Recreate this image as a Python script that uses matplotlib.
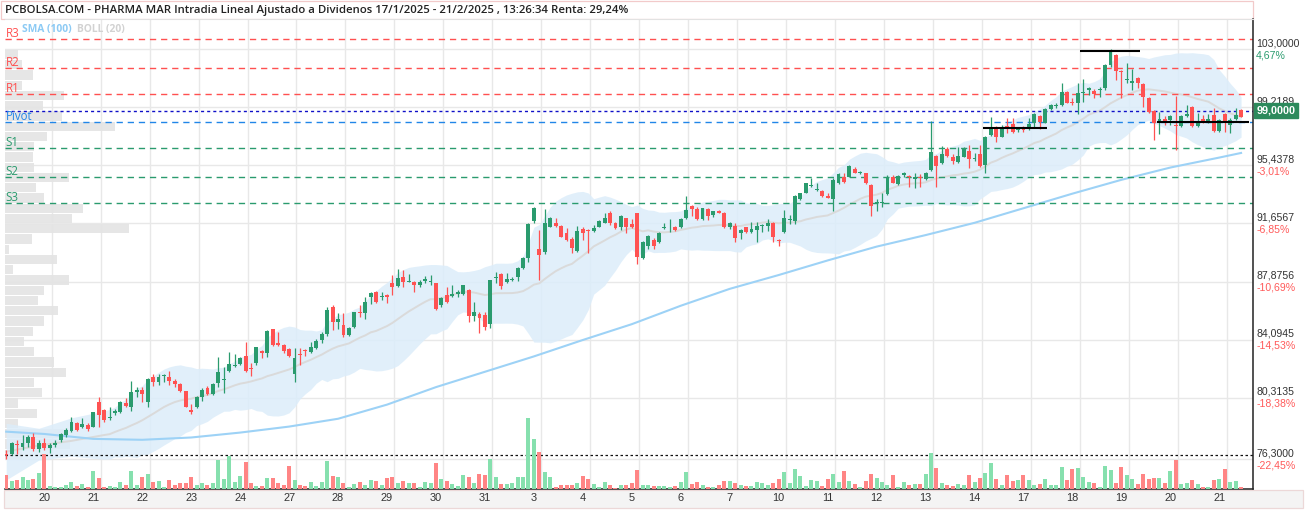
import numpy as np
import pandas as pd
import matplotlib
matplotlib.use("Agg")
import matplotlib.pyplot as plt
from matplotlib.patches import Rectangle
import matplotlib.transforms as mtransforms

# ---------------- data ----------------
title = ("PCBOLSA.COM - PHARMA MAR Intradia Lineal Ajustado a Dividenos "
         "17/1/2025 - 21/2/2025 , 13:26:34 Renta: 29,24%")

opens = [76.63, 76.65, 77.30, 77.08, 77.38, 77.73, 76.95, 77.38, 77.06, 77.23,
         77.56, 77.88, 78.15, 78.69, 78.43, 78.56, 78.43, 80.05, 79.51, 79.01,
         79.30, 79.36, 79.99, 79.73, 80.71, 80.81, 80.05, 81.66, 81.36, 81.75,
         81.64, 81.40, 81.20, 80.73, 79.51, 79.68, 80.38, 80.97, 80.55, 81.25,
         81.45, 82.07, 82.35, 82.51, 83.03, 82.27, 82.55, 83.37, 83.24, 84.77,
         83.85, 83.74, 83.46, 81.83, 83.16, 83.42, 83.31, 83.57, 84.07, 84.44,
         86.20, 85.26, 85.05, 84.40, 84.94, 85.89, 85.81, 86.85, 87.22, 86.85,
         87.00, 87.76, 87.59, 88.15, 87.87, 87.87, 87.67, 87.91, 87.83, 87.80,
         86.35, 86.98, 86.95, 87.04, 87.04, 87.32, 85.65, 85.74, 85.70, 85.09,
         88.10, 88.37, 87.87, 87.98, 88.17, 88.73, 89.39, 91.82, 89.97, 89.82,
         91.45, 91.71, 91.49, 91.01, 90.62, 89.86, 91.27, 91.23, 91.19, 91.45,
         91.71, 92.36, 91.71, 91.45, 91.99, 91.60, 92.32, 89.39, 90.19, 90.58,
         90.43, 91.34, 91.40, 91.45, 91.40, 91.99, 92.79, 92.60, 91.95, 92.60,
         92.19, 92.45, 92.36, 91.40, 91.49, 91.01, 91.40, 91.12, 91.23, 91.51,
         91.49, 91.71, 90.54, 91.12, 91.88, 91.84, 93.25, 93.66, 94.10, 93.83,
         93.77, 93.44, 93.23, 94.27, 94.66, 94.71, 95.18, 94.95, 94.92, 94.16,
         92.97, 92.97, 93.58, 94.71, 94.23, 94.82, 94.75, 94.53, 94.71, 94.53,
         95.14, 96.05, 95.57, 96.49, 96.01, 95.68, 96.01, 96.40, 95.83, 96.18,
         95.47, 97.42, 97.92, 97.31, 98.01, 98.14, 97.75, 97.86, 97.92, 98.18,
         98.66, 98.22, 99.09, 99.31, 99.37, 100.24, 99.59, 99.52, 100.13, 100.35,
         100.31, 100.35, 100.46, 101.98, 102.63, 101.55, 101.00, 100.83, 101.11, 100.74,
         99.81, 99.00, 98.29, 98.44, 98.40, 98.05, 98.00, 98.66, 99.26, 98.00,
         98.44, 98.35, 98.72, 97.70, 98.79, 98.07, 98.44, 99.05]

highs = [76.90, 77.45, 77.56, 77.88, 77.88, 77.99, 77.56, 77.67, 77.34, 77.56,
         77.99, 78.32, 79.03, 78.75, 78.97, 78.64, 79.40, 80.38, 79.55, 79.68,
         79.55, 80.12, 80.27, 81.40, 81.03, 81.03, 81.62, 81.86, 81.86, 81.86,
         82.07, 81.51, 81.25, 80.77, 79.90, 80.42, 80.92, 81.08, 81.25, 82.98,
         82.33, 83.31, 83.16, 82.98, 83.96, 82.55, 83.63, 83.42, 84.72, 84.81,
         84.61, 83.81, 83.53, 83.53, 83.53, 83.46, 83.96, 84.11, 84.61, 86.24,
         86.35, 85.81, 85.85, 84.94, 85.92, 86.35, 86.85, 87.22, 87.28, 87.22,
         87.07, 88.30, 88.67, 88.63, 88.37, 87.89, 87.98, 88.24, 88.30, 87.80,
         86.89, 87.54, 87.65, 87.32, 87.65, 87.37, 86.52, 85.91, 85.91, 87.98,
         88.48, 88.45, 88.41, 88.19, 88.84, 89.45, 91.66, 92.75, 91.23, 92.58,
         92.10, 91.99, 91.56, 91.34, 90.75, 91.49, 91.45, 91.27, 91.56, 91.88,
         92.32, 92.47, 91.77, 92.21, 92.03, 91.93, 92.32, 90.54, 90.91, 90.69,
         91.12, 91.66, 91.93, 91.49, 91.99, 93.47, 92.84, 92.75, 92.69, 92.64,
         92.49, 92.53, 92.40, 91.77, 91.66, 91.27, 91.45, 91.77, 91.77, 91.62,
         91.93, 91.75, 90.62, 92.53, 92.21, 93.51, 93.66, 94.31, 94.59, 94.27,
         93.83, 93.62, 94.59, 94.96, 94.92, 95.47, 95.36, 95.10, 94.97, 94.23,
         93.23, 93.62, 94.82, 94.82, 94.82, 95.03, 94.82, 94.92, 94.88, 95.03,
         98.35, 96.12, 96.70, 96.66, 96.18, 96.62, 96.66, 96.77, 96.23, 96.77,
         97.38, 98.57, 98.00, 98.07, 98.50, 98.50, 97.96, 98.00, 98.50, 98.83,
         98.72, 99.16, 99.42, 99.48, 100.78, 100.31, 99.81, 100.78, 101.04, 100.57,
         100.39, 100.57, 102.04, 103.00, 102.69, 101.65, 102.09, 101.69, 101.17, 100.78,
         99.87, 99.05, 98.94, 98.66, 98.72, 99.96, 98.72, 99.37, 99.31, 98.83,
         98.72, 98.79, 99.16, 98.44, 98.87, 98.50, 99.16, 99.09]

lows = [76.30, 76.58, 76.65, 76.91, 77.12, 76.86, 76.80, 76.90, 76.70, 77.12,
        77.45, 77.77, 78.10, 78.17, 78.32, 78.17, 78.38, 78.38, 78.75, 78.86,
        79.19, 79.30, 79.68, 79.47, 80.38, 80.05, 79.68, 81.08, 81.14, 81.36,
        81.14, 81.03, 80.71, 79.68, 79.23, 79.62, 80.12, 80.49, 80.49, 80.99,
        80.64, 82.01, 82.33, 82.44, 82.01, 81.73, 82.44, 82.88, 82.98, 83.68,
        83.70, 83.20, 82.98, 81.36, 82.44, 83.03, 83.24, 83.46, 83.90, 84.33,
        84.72, 84.77, 84.29, 84.33, 84.83, 85.55, 85.42, 86.41, 86.46, 86.67,
        86.50, 87.00, 87.50, 87.50, 87.83, 87.22, 87.54, 87.76, 87.65, 86.02,
        86.24, 86.50, 86.89, 86.89, 87.00, 85.26, 85.33, 84.50, 84.72, 84.83,
        87.80, 87.37, 87.80, 87.93, 87.93, 88.67, 89.17, 91.66, 87.98, 89.67,
        91.40, 91.40, 90.75, 90.54, 89.71, 89.80, 90.58, 89.75, 91.12, 91.40,
        91.66, 91.56, 91.32, 91.23, 91.06, 91.38, 88.99, 89.32, 89.97, 89.97,
        90.36, 91.27, 91.08, 91.17, 91.34, 91.93, 92.14, 91.88, 91.88, 91.88,
        92.06, 92.32, 91.38, 91.32, 90.47, 90.62, 91.06, 91.06, 90.47, 91.12,
        91.19, 90.47, 90.19, 91.06, 91.62, 91.62, 93.18, 93.62, 94.05, 93.79,
        93.36, 93.29, 92.49, 94.20, 94.31, 94.66, 94.92, 94.90, 94.23, 92.14,
        92.49, 92.75, 93.51, 94.27, 94.16, 94.71, 94.05, 93.95, 94.05, 94.49,
        95.10, 94.05, 95.53, 95.96, 95.53, 95.62, 95.96, 95.25, 95.75, 95.31,
        94.97, 97.36, 96.99, 97.27, 97.53, 97.53, 97.64, 97.64, 97.75, 97.86,
        97.79, 98.18, 99.05, 99.16, 99.31, 99.48, 99.37, 98.79, 99.59, 100.02,
        99.81, 99.92, 100.35, 101.87, 101.00, 99.81, 100.78, 100.35, 100.46, 99.26,
        98.87, 97.09, 97.48, 98.07, 98.07, 96.44, 97.96, 98.57, 97.92, 97.92,
        98.22, 98.22, 97.64, 97.64, 97.64, 97.57, 98.40, 98.57]

closes = [76.55, 77.34, 77.25, 77.38, 77.73, 76.95, 77.38, 77.06, 77.23, 77.38,
          77.93, 78.21, 78.73, 78.21, 78.60, 78.27, 79.36, 79.21, 78.86, 79.08,
          79.47, 80.03, 79.77, 80.66, 80.81, 80.55, 81.53, 81.36, 81.66, 81.79,
          81.42, 81.20, 80.77, 79.73, 79.40, 80.38, 80.81, 80.55, 81.20, 81.96,
          81.55, 82.51, 82.45, 82.88, 82.07, 82.16, 83.59, 83.20, 84.68, 83.74,
          83.74, 83.37, 83.03, 82.88, 83.09, 83.37, 83.63, 84.00, 84.44, 86.02,
          85.26, 85.42, 84.40, 84.83, 85.89, 85.81, 86.57, 87.15, 86.57, 86.94,
          86.85, 87.54, 88.09, 87.87, 87.91, 87.67, 87.83, 88.02, 87.87, 86.09,
          86.82, 86.56, 87.04, 87.22, 87.65, 85.65, 85.87, 85.52, 84.94, 87.98,
          88.15, 87.59, 88.04, 88.06, 88.73, 89.39, 91.62, 92.69, 89.60, 91.71,
          92.03, 91.49, 90.80, 90.58, 90.08, 91.17, 91.06, 91.17, 91.34, 91.84,
          91.99, 91.71, 91.38, 92.14, 91.45, 91.45, 89.49, 90.47, 90.84, 90.19,
          91.06, 91.38, 91.45, 91.23, 91.95, 92.53, 92.60, 91.95, 92.64, 92.16,
          92.45, 92.36, 91.45, 91.71, 90.69, 91.23, 91.12, 91.27, 91.49, 91.56,
          91.71, 90.75, 90.49, 91.99, 91.95, 93.44, 93.62, 94.27, 94.16, 93.90,
          93.47, 93.34, 94.49, 94.88, 94.38, 95.40, 94.97, 95.00, 94.32, 92.80,
          93.08, 93.01, 94.71, 94.32, 94.75, 94.97, 94.66, 94.71, 94.60, 94.92,
          96.33, 95.40, 96.16, 96.05, 95.75, 96.05, 96.55, 95.83, 95.94, 95.40,
          97.31, 97.95, 97.31, 97.92, 97.86, 97.64, 97.92, 97.75, 98.14, 98.79,
          98.29, 99.09, 99.37, 99.37, 100.24, 99.52, 99.48, 100.18, 100.18, 100.46,
          100.09, 100.39, 101.98, 102.85, 101.61, 101.50, 101.04, 100.96, 100.78, 99.87,
          98.94, 98.22, 98.44, 98.35, 98.66, 98.00, 98.66, 98.79, 98.00, 98.22,
          98.35, 98.48, 97.70, 98.40, 98.35, 98.40, 98.72, 98.61]

volumes = [42, 24, 27, 37, 27, 30, 47, 105, 9, 6,
           6, 11, 20, 9, 15, 6, 54, 32, 6, 9,
           6, 20, 11, 54, 11, 35, 44, 20, 24, 6,
           27, 11, 17, 17, 35, 11, 17, 11, 17, 87,
           29, 99, 20, 40, 80, 17, 9, 9, 32, 32,
           17, 11, 69, 27, 11, 9, 20, 9, 20, 84,
           40, 35, 17, 6, 15, 21, 11, 27, 24, 11,
           34, 37, 19, 24, 17, 17, 5, 20, 17, 77,
           29, 24, 14, 9, 41, 37, 17, 44, 41, 89,
           35, 14, 14, 17, 35, 35, 212, 149, 111, 50,
           35, 6, 11, 11, 11, 17, 38, 29, 14, 6,
           20, 11, 4, 11, 11, 17, 57, 11, 11, 9,
           9, 9, 6, 9, 20, 51, 14, 20, 11, 6,
           6, 11, 24, 24, 17, 11, 9, 9, 20, 17,
           11, 17, 29, 51, 17, 59, 38, 9, 27, 24,
           9, 29, 44, 20, 54, 24, 14, 5, 24, 44,
           32, 20, 11, 41, 6, 20, 11, 14, 14, 44,
           109, 62, 17, 11, 9, 14, 11, 41, 20, 32,
           47, 77, 29, 11, 41, 24, 27, 41, 27, 11,
           14, 29, 11, 11, 65, 27, 59, 62, 37, 20,
           17, 6, 68, 57, 17, 65, 41, 29, 14, 44,
           29, 32, 32, 17, 54, 86, 14, 17, 27, 14,
           6, 6, 27, 29, 59, 20, 23, 6]

day_labels = ["20", "21", "22", "23", "24", "27", "28", "29", "30", "31",
              "3", "4", "5", "6", "7", "10", "11", "12", "13", "14",
              "17", "18", "19", "20", "21"]
bars_before_first_day = 7
bars_per_day = 9

# SMA(100) read at the first bar, at each day start and at the last bar
sma100 = [78.10, 77.95, 77.63, 77.57, 77.72, 78.04, 78.43, 78.94, 79.86, 81.0,
          82.0, 83.0, 84.07, 85.1, 86.3, 87.4, 88.3, 89.25, 90.15, 90.9,
          91.7, 92.65, 93.6, 94.5, 95.3, 95.95, 96.25]

# Bollinger(20) read before a full 20-bar window exists (bars 0, 6, 12, 18)
boll_head_upper = [78.64, 78.32, 79.00, 79.45]
boll_head_mid = [76.80, 77.20, 77.50, 77.88]
boll_head_lower = [74.96, 76.25, 76.50, 76.30]

# volume-at-price profile, 40 bins from top (103) to bottom (76.3)
profile = [13, 17, 28, 17, 59, 38, 57, 110, 42, 29,
           28, 29, 64, 31, 39, 78, 67, 124, 27, 4,
           52, 8, 64, 39, 33, 53, 39, 28, 19, 29,
           49, 61, 29, 37, 13, 32, 13, 63, 65, 17]

pivot_names = ["R3", "R2", "R1", "Pivot", "S1", "S2", "S3"]
pivot_values = [103.67, 101.78, 100.07, 98.25, 96.55, 94.66, 92.99]

axis_prices = [103.0, 99.2189, 95.4378, 91.6567, 87.8756, 84.0945, 80.3135, 76.3]
# percentage under each price (the one under 99,2189 is hidden by the price tag)
axis_pcts = ["4,67%", "", "-3,01%", "-6,85%", "-10,69%", "-14,53%", "-18,38%", "-22,45%"]

last_price = 99.0
start_price = 76.6
sr_levels = [102.87, 97.90, 98.25]
sr_from = [197.4, 179.5, 211.5]
sr_to = [208.4, 191.4, 228.5]

# ---------------- style ----------------
GREEN = "#2a9b6e"
RED = "#ff5252"
VGREEN = "#86e0ae"
VRED = "#ff8585"
GRID = "#e8e8e8"
W, H = 1308, 512

fig = plt.figure(figsize=(W / 100, H / 100), dpi=100)
fig.patch.set_facecolor("white")

L, R, T, B = 5, 1253, 19, 489
rect = [L / W, 1 - B / H, (R - L) / W, (B - T) / H]
ax = fig.add_axes(rect)
axv = fig.add_axes(rect, sharex=ax)
axv.set_facecolor("none")

n = len(closes)
x = np.arange(n)
o = np.array(opens); c = np.array(closes); h = np.array(highs); l = np.array(lows)

# scales: 5.44 px per bar
px_per_bar = 5.44
x0 = -(6.2 - L) / px_per_bar
ax.set_xlim(x0, x0 + (R - L) / px_per_bar)
pmax, pmin = max(highs), min(lows)
ppu = (459.3 - 49.3) / (pmax - pmin)
ax.set_ylim(pmin - (B - 459.3) / ppu, pmax + (49.3 - T) / ppu)

# grid
for p in axis_prices:
    ax.axhline(p, color=GRID, lw=1, zorder=0.5)
day_starts = [bars_before_first_day + k * bars_per_day for k in range(len(day_labels))]
for d in day_starts:
    ax.axvline(d + 1.36, color=GRID, lw=1, zorder=0.5)

# volume profile (left)
btr = mtransforms.blended_transform_factory(ax.transAxes, ax.transData)
nb = len(profile)
bw = (pmax - pmin) / nb
pmaxv = max(profile)
for k, v in enumerate(profile):
    top = pmax - k * bw
    ax.add_patch(Rectangle((0, top - bw * 0.95), (v / pmaxv) * 124 / (R - L), bw * 0.9,
                           transform=btr, facecolor="#e4e4e4", edgecolor="none",
                           alpha=0.92, zorder=1))

# Bollinger bands
cs = pd.Series(c)
mid = cs.rolling(20).mean()
sd = cs.rolling(20).std(ddof=0)
head_x = [0, 6, 12, 18]
bx = np.array(head_x + list(range(19, n)))
bu = np.array(boll_head_upper + list((mid + 2 * sd)[19:]))
bm = np.array(boll_head_mid + list(mid[19:]))
bl = np.array(boll_head_lower + list((mid - 2 * sd)[19:]))
ax.fill_between(bx, bl, bu, color="#dcedfa", alpha=0.85, lw=0, zorder=1.5)
ax.plot(bx, bm, color="#dadada", lw=1.4, zorder=1.8)

# SMA 100
sx = [0] + day_starts + [n - 1]
ax.plot(sx, sma100, color="#9dd2f6", lw=1.5, zorder=1.9)

# pivot lines
pcols = ["#ff5050", "#ff5050", "#ff5050", "#2186e8", "#2a9b6e", "#2a9b6e", "#2a9b6e"]
for name, val, col in zip(pivot_names, pivot_values, pcols):
    ax.axhline(val, color=col, lw=1, ls=(0, (4.5, 3.5)), zorder=2.2)
    ax.annotate(name, xy=(0, val), xycoords=btr, xytext=(0.3, 4.0), textcoords="offset points",
                ha="left", va="center", color=col, fontsize=8.3, family="Open Sans",
                annotation_clip=False, zorder=5)

# current price and start price lines
ax.axhline(last_price, color="#1010c8", lw=1, ls=(0, (2.2, 2.2)), zorder=2.3)
ax.axhline(start_price, color="#111111", lw=0.9, ls=(0, (2, 2)), zorder=2.3)

# support / resistance segments
ax.hlines(sr_levels, sr_from, sr_to, colors="black", lw=1.5, zorder=4)

# candles
up = c >= o
cols = np.where(up, GREEN, RED)
ax.vlines(x, l, h, colors=cols, lw=0.9, zorder=3)
body = np.maximum(np.abs(c - o), 0.06)
ax.bar(x, body, bottom=np.minimum(o, c), width=0.72, color=cols, lw=0, zorder=3.2)

# volume
vcols = np.where(up, VGREEN, VRED)
axv.bar(x, volumes, width=0.74, color=vcols, lw=0)
vmax = max(volumes)
axv.set_ylim(0, vmax * (B - T) / 70.7)
axv.set_xlim(ax.get_xlim())
for s in axv.spines.values():
    s.set_visible(False)
axv.set_xticks([]); axv.set_yticks([])

# spines / ticks
ax.set_xticks([]); ax.set_yticks([])
ax.spines["left"].set_visible(False)
ax.spines["top"].set_color("#e2e2e2")
ax.spines["right"].set_color("#222222")
ax.spines["bottom"].set_color("#222222")
ax.spines["right"].set_linewidth(1.1)
ax.spines["bottom"].set_linewidth(1.1)

# right axis labels
ytr = ax.get_yaxis_transform()
for p, pct in zip(axis_prices, axis_pcts):
    txt = f"{p:.4f}".replace(".", ",")
    ax.annotate(txt, xy=(1, p), xycoords=ytr, xytext=(2.2, 4.1), textcoords="offset points",
                ha="left", va="center", fontsize=7.6, color="#333333", family="Liberation Sans",
                annotation_clip=False)
    if pct:
        pc = "#2a9b6e" if not pct.startswith("-") else "#ff5a5a"
        ax.annotate(pct, xy=(1, p), xycoords=ytr, xytext=(2.2, -4.2), textcoords="offset points",
                    ha="left", va="center", fontsize=7.6, color=pc, family="Liberation Sans",
                    annotation_clip=False)

ax.annotate(f"{last_price:.4f}".replace(".", ","), xy=(1, last_price), xycoords=ytr,
            xytext=(2.6, 0), textcoords="offset points", ha="left", va="center",
            fontsize=7.8, color="white", weight="bold", family="Liberation Sans",
            annotation_clip=False,
            bbox=dict(boxstyle="square,pad=0.22", fc="#2d8a5c", ec="#2d8a5c"))

# date labels
xtr = ax.get_xaxis_transform()
for d, lab in zip(day_starts, day_labels):
    ax.annotate(lab, xy=(d, 0), xycoords=xtr, xytext=(0, -6.6), textcoords="offset points",
                ha="center", va="center", fontsize=7.9, color="#333333",
                family="Liberation Sans", annotation_clip=False)

# date band & title frame
def frect(x0p, y0p, x1p, y1p, **kw):
    r = Rectangle((x0p / W, 1 - y1p / H), (x1p - x0p) / W, (y1p - y0p) / H,
                  transform=fig.transFigure, **kw)
    fig.add_artist(r)
    return r

frect(4, 489.5, 1303, 508, facecolor="#f4f4f4", edgecolor="#ecd8d8", lw=0.9, zorder=-1)
frect(0.5, 0.5, 1253, 18.5, facecolor="none", edgecolor="#f2caca", lw=0.9, zorder=-1)

fig.text(5 / W, 1 - 11 / H, title, ha="left", va="center", fontsize=8.2,
         fontweight="semibold", family="Open Sans", color="#222222")

fig.text(22 / W, 1 - 29.5 / H, "SMA (100)", ha="left", va="center", fontsize=7.4,
         fontweight="bold", family="Open Sans", color="#8ccaf4")
fig.text(77 / W, 1 - 29.5 / H, "BOLL (20)", ha="left", va="center", fontsize=7.4,
         fontweight="bold", family="Open Sans", color="#d2d2d2")

fig.savefig("out.png", dpi=100, facecolor="white")
